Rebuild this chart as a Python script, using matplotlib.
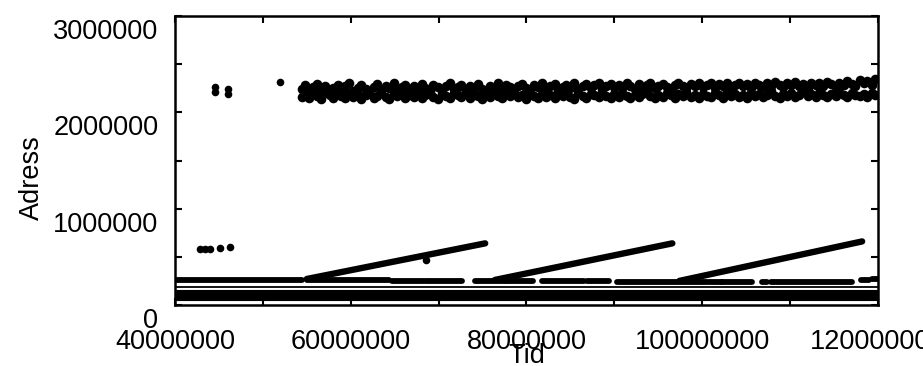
import matplotlib
matplotlib.use("Agg")
import matplotlib.pyplot as plt
import matplotlib.transforms as mtransforms
import numpy as np

plt.rcParams['font.family'] = ['Liberation Sans', 'DejaVu Sans']

M = 1e6  # values below are in millions

# upper cloud of addresses (Tid, Adress)
top_x = [54.4, 54.8, 55.3, 55.7, 56.2, 56.6, 57.1, 57.6, 58.0, 58.5,
         58.9, 59.4, 59.8, 60.3, 60.8, 61.2, 61.7, 62.1, 62.6, 63.0,
         63.5, 64.0, 64.4, 64.9, 65.3, 65.8, 66.2, 66.7, 67.2, 67.6,
         68.1, 68.5, 69.0, 69.4, 69.9, 70.4, 70.8, 71.3, 71.7, 72.2,
         72.6, 73.1, 73.6, 74.0, 74.5, 74.9, 75.4, 75.8, 76.3, 76.8,
         77.2, 77.7, 78.1, 78.6, 79.0, 79.5, 80.0, 80.4, 80.9, 81.3,
         81.8, 82.2, 82.7, 83.2, 83.6, 84.1, 84.5, 85.0, 85.4, 85.9,
         86.4, 86.8, 87.3, 87.7, 88.2, 88.6, 89.1, 89.6, 90.0, 90.5,
         90.9, 91.4, 91.8, 92.3, 92.8, 93.2, 93.7, 94.1, 94.6, 95.0,
         95.5, 96.0, 96.4, 96.9, 97.3, 97.8, 98.2, 98.7, 99.2, 99.6,
         100.1, 100.5, 101.0, 101.4, 101.9, 102.4, 102.8, 103.3, 103.7, 104.2,
         104.6, 105.1, 105.6, 106.0, 106.5, 106.9, 107.4, 107.8, 108.3, 108.8,
         109.2, 109.7, 110.1, 110.6, 111.0, 111.5, 112.0, 112.4, 112.9, 113.3,
         113.8, 114.2, 114.7, 115.2, 115.6, 116.1, 116.5, 117.0, 117.4, 117.9,
         118.4, 118.8, 119.3, 119.7]
top_y_low = [2.16, 2.19, 2.15, 2.21, 2.17, 2.14, 2.20, 2.18, 2.15, 2.22,
             2.17, 2.15, 2.20, 2.16, 2.19, 2.14, 2.18, 2.21, 2.15, 2.17,
             2.20, 2.16, 2.14, 2.19, 2.17, 2.22, 2.15, 2.18, 2.16, 2.20,
             2.15, 2.18, 2.21, 2.16, 2.14, 2.19, 2.17, 2.15, 2.20, 2.18,
             2.16, 2.21, 2.15, 2.18, 2.17, 2.14, 2.19, 2.16, 2.22, 2.17,
             2.15, 2.19, 2.17, 2.20, 2.16, 2.18, 2.14, 2.21, 2.17, 2.15,
             2.19, 2.16, 2.18, 2.15, 2.21, 2.17, 2.19, 2.16, 2.14, 2.20,
             2.17, 2.15, 2.19, 2.18, 2.16, 2.21, 2.17, 2.15, 2.19, 2.16,
             2.20, 2.17, 2.15, 2.18, 2.16, 2.19, 2.22, 2.17, 2.15, 2.18,
             2.16, 2.20, 2.18, 2.15, 2.19, 2.17, 2.21, 2.16, 2.18, 2.15,
             2.19, 2.17, 2.16, 2.20, 2.18, 2.15, 2.21, 2.17, 2.19, 2.16,
             2.18, 2.15, 2.20, 2.17, 2.19, 2.16, 2.18, 2.22, 2.17, 2.15,
             2.19, 2.17, 2.20, 2.16, 2.18, 2.21, 2.17, 2.19, 2.16, 2.20,
             2.18, 2.16, 2.19, 2.17, 2.21, 2.18, 2.16, 2.20, 2.18, 2.17,
             2.19, 2.16, 2.20, 2.18]
top_y_high = [2.24, 2.28, 2.22, 2.26, 2.29, 2.23, 2.27, 2.21, 2.25, 2.28,
              2.23, 2.27, 2.30, 2.22, 2.25, 2.28, 2.24, 2.21, 2.26, 2.29,
              2.23, 2.27, 2.25, 2.30, 2.22, 2.26, 2.28, 2.24, 2.27, 2.22,
              2.29, 2.25, 2.23, 2.28, 2.26, 2.22, 2.27, 2.30, 2.24, 2.26,
              2.28, 2.23, 2.27, 2.25, 2.29, 2.24, 2.22, 2.27, 2.25, 2.30,
              2.24, 2.28, 2.26, 2.22, 2.27, 2.29, 2.25, 2.23, 2.28, 2.26,
              2.30, 2.24, 2.27, 2.29, 2.23, 2.26, 2.28, 2.25, 2.31, 2.24,
              2.27, 2.29, 2.25, 2.28, 2.31, 2.24, 2.27, 2.29, 2.26, 2.28,
              2.25, 2.30, 2.27, 2.24, 2.29, 2.26, 2.28, 2.31, 2.25, 2.27,
              2.29, 2.26, 2.24, 2.28, 2.30, 2.27, 2.25, 2.29, 2.27, 2.31,
              2.26, 2.28, 2.30, 2.25, 2.29, 2.27, 2.31, 2.26, 2.28, 2.30,
              2.27, 2.29, 2.25, 2.31, 2.28, 2.26, 2.30, 2.27, 2.32, 2.28,
              2.26, 2.30, 2.28, 2.32, 2.27, 2.29, 2.25, 2.31, 2.28, 2.30,
              2.27, 2.32, 2.29, 2.26, 2.31, 2.28, 2.33, 2.29, 2.27, 2.34,
              2.30, 2.33, 2.28, 2.35]

# isolated points
stray_x = [44.6, 44.6, 46.0, 46.0, 51.9, 42.9, 43.4, 44.0, 45.1, 46.3, 68.6]
stray_y = [2.26, 2.21, 2.24, 2.19, 2.32, 0.58, 0.58, 0.58, 0.59, 0.60, 0.47]

# rising runs (start, end)
ramp_x0 = [55.0, 76.4, 97.4]
ramp_x1 = [75.3, 96.6, 118.2]
ramp_y0 = [0.27, 0.26, 0.25]
ramp_y1 = [0.64, 0.64, 0.66]

# broken run around 250000
dash_x0 = [40.2, 55.0, 64.7, 68.4, 74.1, 77.7, 81.8, 86.9, 90.3, 100.8, 102.3, 106.8, 107.8, 118.1, 119.3]
dash_x1 = [54.5, 64.4, 68.2, 72.7, 77.5, 80.7, 86.6, 89.4, 100.5, 102.2, 105.7, 107.4, 117.0, 119.0, 120.0]
dash_y = [0.26, 0.26, 0.25, 0.25, 0.25, 0.25, 0.25, 0.25, 0.24, 0.24, 0.24, 0.24, 0.24, 0.26, 0.27]

# dense bottom band
band_x = [40.0, 120.0]
band_y = [0.10, 0.10]
thin_y = [0.19, 0.19]

fig = plt.figure(figsize=(9.23, 3.66), dpi=100)
ax = fig.add_axes([0.1896, 0.1667, 0.7616, 0.7894])

ax.plot(np.array(band_x) * M, np.array(band_y) * M, color='black', lw=8, solid_capstyle='butt')
ax.plot(np.array(band_x) * M, np.array(thin_y) * M, color='black', lw=1.3, solid_capstyle='butt')

for x0, x1, y in zip(dash_x0, dash_x1, dash_y):
    ax.plot([x0 * M, x1 * M], [y * M, y * M], color='black', lw=4.2, solid_capstyle='round')

for x0, x1, y0, y1 in zip(ramp_x0, ramp_x1, ramp_y0, ramp_y1):
    ax.plot([x0 * M, x1 * M], [y0 * M, y1 * M], color='black', lw=4.6, solid_capstyle='round')

ax.scatter(np.array(top_x) * M, np.array(top_y_low) * M, s=48, color='black', linewidths=0)
ax.scatter(np.array(top_x) * M, np.array(top_y_high) * M, s=48, color='black', linewidths=0)
ax.scatter(np.array(stray_x) * M, np.array(stray_y) * M, s=30, color='black', linewidths=0)

ax.set_xlim(40e6, 120e6)
ax.set_ylim(0, 3e6)
ax.set_xticks(np.arange(40e6, 120.1e6, 20e6))
ax.set_xticks(np.arange(40e6, 120.1e6, 10e6), minor=True)
ax.set_yticks(np.arange(0, 3.01e6, 1e6))
ax.set_yticks(np.arange(0, 3.01e6, 0.5e6), minor=True)
ax.xaxis.set_major_formatter(matplotlib.ticker.FuncFormatter(lambda v, p: "%d" % v))
ax.yaxis.set_major_formatter(matplotlib.ticker.FuncFormatter(lambda v, p: "%d" % v))

ax.tick_params(which='both', direction='in', top=True, right=True, length=5, width=1.5)
ax.tick_params(axis='x', labelsize=19.5, pad=17)
ax.tick_params(axis='y', labelsize=19.5, pad=12)
for sp in ax.spines.values():
    sp.set_linewidth(1.8)

# y tick labels sit a bit below their ticks in the original
offset = mtransforms.ScaledTranslation(0, -0.13, fig.dpi_scale_trans)
for lab in ax.get_yticklabels():
    lab.set_transform(lab.get_transform() + offset)

ax.set_xlabel("Tid", fontsize=19.5)
ax.xaxis.set_label_coords(0.5, -0.13)
ax.set_ylabel("Adress", fontsize=19.5)
ax.yaxis.set_label_coords(-0.185, 0.44)

plt.savefig("out.png", dpi=100)
